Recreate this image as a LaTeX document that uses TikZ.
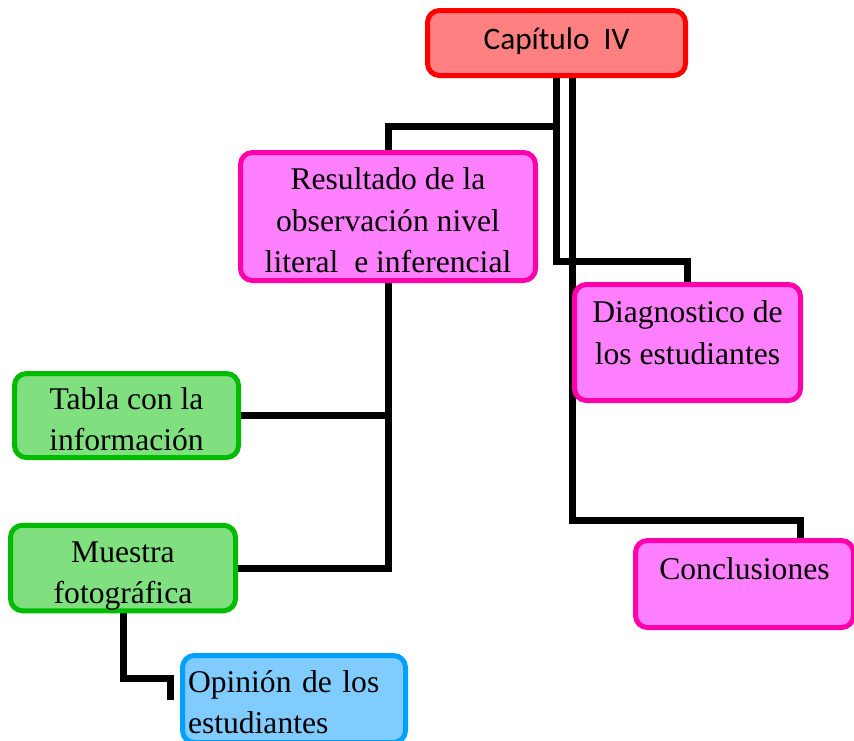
\documentclass[tikz,border=0pt]{standalone}
\usepackage{fontspec}
\setmainfont{Liberation Serif}
\newfontfamily\capfont{Carlito}
\usetikzlibrary{calc}
\pgfdeclarelayer{bg}
\pgfsetlayers{bg,main}
\definecolor{redfill}{RGB}{255,128,128}
\definecolor{redline}{RGB}{255,0,0}
\definecolor{pinkfill}{RGB}{255,128,255}
\definecolor{pinkline}{RGB}{255,0,170}
\definecolor{greenfill}{RGB}{128,224,128}
\definecolor{greenline}{RGB}{0,187,0}
\definecolor{bluefill}{RGB}{128,204,255}
\definecolor{blueline}{RGB}{0,160,255}
\newcommand{\lift}[1]{\rule{0pt}{#1}}
\begin{document}
\begin{tikzpicture}[x=0.75pt,y=-0.75pt,
  box/.style={draw, rounded corners=9pt, line width=3.75pt, inner sep=0pt,
    align=center, font=\fontsize{23.7}{31}\selectfont},
  redbox/.style={box, draw=redline, fill=redfill},
  pinkbox/.style={box, draw=pinkline, fill=pinkfill},
  greenbox/.style={box, draw=greenline, fill=greenfill},
  bluebox/.style={box, draw=blueline, fill=bluefill},
  conn/.style={draw=black, line width=5.25pt}]
\useasboundingbox (0,0) rectangle (854,740);

\node[redbox, minimum width=193.5pt, minimum height=48.75pt,
  font=\capfont\fontsize{23.5}{28}\selectfont] (cap) at (556.5,43) {Capítulo\ \ IV\\[-22pt]\mbox{}};
\node[pinkbox, minimum width=221.25pt, minimum height=96pt] (res) at (388,216.5)
  {\lift{22pt}Resultado de la\\observación nivel\\literal\ \ e inferencial};
\node[greenbox, minimum width=168pt, minimum height=63pt] (tab) at (126.5,415.5)
  {\lift{22pt}Tabla con la\\información};
\node[greenbox, minimum width=168.75pt, minimum height=63.75pt] (mue) at (123,568)
  {\lift{28pt}Muestra\\fotográfica};
\node[bluebox, minimum width=167.25pt, minimum height=65.25pt, text width=159pt,
  align=left] (opi) at (294,699) {\lift{21.5pt}Opinión de los\\estudiantes};
\node[pinkbox, minimum width=169.5pt, minimum height=87pt] (dia) at (687.5,342.5)
  {Diagnostico de\\los estudiantes\\[-16pt]\mbox{}};
\node[pinkbox, minimum width=163.5pt, minimum height=65.25pt] (con) at (744.5,584)
  {Conclusiones\\[-8pt]\mbox{}};

\coordinate (j1) at (0,126);
\coordinate (j2) at (0,261);
\coordinate (j3) at (0,520);
\coordinate (x800) at (800,0);
\coordinate (k1) at (170,678);
\coordinate (k2) at (170,700);

\begin{pgfonlayer}{bg}
\draw[conn] (cap.south) -- (cap.south |- j1) -| (res.north);
\draw[conn] (cap.south) -- (cap.south |- j2) -| (dia.north);
\draw[conn] ($(cap.south)+(15.5,0)$) |- ($(j3 -| x800)$) -- (con.north -| x800);
\draw[conn] (res.south) |- (mue.east);
\draw[conn] (tab.east) -- (tab.east -| res.south);
\draw[conn] (mue.south) |- (k1) -- (k2);
\end{pgfonlayer}
\end{tikzpicture}
\end{document}
